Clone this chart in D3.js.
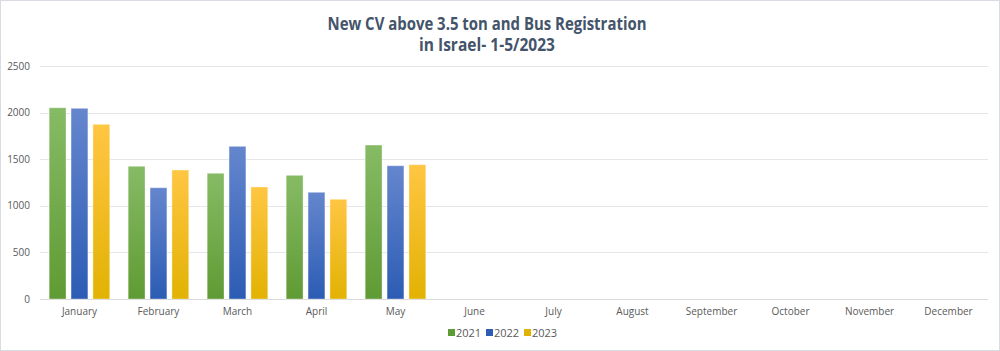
<!DOCTYPE html>
<html>
<head>
<meta charset="utf-8">
<script src="https://cdn.jsdelivr.net/npm/d3@7"></script>
<style>
  body { margin: 0; background: #fff; }
  svg { display: block; font-family: "Open Sans", "Noto Sans", sans-serif; }
</style>
</head>
<body>
<svg id="chart" width="1000" height="351"></svg>
<script>
// chart data
const months = ['January', 'February', 'March', 'April', 'May', 'June', 'July',
  'August', 'September', 'October', 'November', 'December'];
const years = ['2021', '2022', '2023'];
const values2021 = [2052, 1424, 1349, 1327, 1652];
const values2022 = [2046, 1194, 1638, 1145, 1430];
const values2023 = [1874, 1384, 1202, 1070, 1441];
const yTicks = [0, 500, 1000, 1500, 2000, 2500];
const titleLines = ['New CV above 3.5 ton and Bus Registration', 'in Israel- 1-5/2023'];

const series = [values2021, values2022, values2023];

// gradient colours per year (top, bottom)
const palette = [
  ['#86bb65', '#5f9b34'],
  ['#6586ce', '#2c5cb4'],
  ['#ffc643', '#e2b203']
];

const svg = d3.select('#chart');
const width = 1000, height = 351;
const margin = { top: 66, right: 12, bottom: 52, left: 40 };

// outer frame
svg.append('rect')
  .attr('x', 0.5).attr('y', 0.5)
  .attr('width', width - 1).attr('height', height - 1)
  .style('fill', '#fff')
  .style('stroke', '#d9dde3');

const defs = svg.append('defs');
palette.forEach((c, i) => {
  const g = defs.append('linearGradient')
    .attr('id', 'grad' + i)
    .attr('x1', 0).attr('y1', 0).attr('x2', 0).attr('y2', 1);
  g.append('stop').attr('offset', '0%').attr('stop-color', c[0]);
  g.append('stop').attr('offset', '100%').attr('stop-color', c[1]);
});

const x = d3.scaleBand()
  .domain(months)
  .range([margin.left, width - margin.right])
  .paddingInner(0.233)
  .paddingOuter(0.116);

const x1 = d3.scaleBand()
  .domain(years)
  .range([0, x.bandwidth()])
  .paddingInner(0.23);

const y = d3.scaleLinear()
  .domain([0, 2500])
  .range([height - margin.bottom, margin.top]);

// gridlines
svg.append('g').selectAll('line')
  .data(yTicks)
  .enter().append('line')
  .attr('x1', margin.left)
  .attr('x2', width - margin.right)
  .attr('y1', d => Math.round(y(d)) + 0.5)
  .attr('y2', d => Math.round(y(d)) + 0.5)
  .style('stroke', d => d === 0 ? '#d9d9d9' : '#e4e6ea')
  .style('stroke-width', 1);

// y labels
svg.append('g').selectAll('text')
  .data(yTicks)
  .enter().append('text')
  .attr('x', 30)
  .attr('y', d => y(d) + 3.5)
  .attr('text-anchor', 'end')
  .text(d => d)
  .style('fill', '#595959')
  .style('font-size', '10px');

// x labels
svg.append('g').selectAll('text')
  .data(months)
  .enter().append('text')
  .attr('x', d => x(d) + x.bandwidth() / 2)
  .attr('y', 315)
  .attr('text-anchor', 'middle')
  .text(d => d)
  .style('fill', '#595959')
  .style('font-size', '10px');

// bars
const groups = svg.append('g').selectAll('g')
  .data(months.slice(0, values2021.length))
  .enter().append('g')
  .attr('transform', d => `translate(${x(d)},0)`);

groups.selectAll('rect')
  .data((m, mi) => years.map((yr, i) => ({ yr, i, v: series[i][mi] })))
  .enter().append('rect')
  .attr('x', d => x1(d.yr))
  .attr('y', d => y(d.v))
  .attr('width', x1.bandwidth())
  .attr('height', d => y(0) - y(d.v))
  .style('fill', d => `url(#grad${d.i})`)
  .style('stroke', 'rgba(255,255,255,0.35)')
  .style('stroke-width', 1);

// title
const title = svg.append('text')
  .attr('text-anchor', 'middle')
  .style('fill', '#44546a')
  .style('font-size', '17px')
  .style('font-weight', 'bold');
titleLines.forEach((t, i) => {
  title.append('tspan')
    .attr('x', 487)
    .attr('y', 30 + i * 21)
    .text(t);
});
// squeeze to Calibri-like width
title.selectAll('tspan').each(function (d, i) {
  const target = i === 0 ? 319 : 136;
  d3.select(this).attr('textLength', target).attr('lengthAdjust', 'spacingAndGlyphs');
});

// legend
const legend = svg.append('g').attr('transform', 'translate(448,333)');
years.forEach((yr, i) => {
  const item = legend.append('g').attr('transform', `translate(${i * 38},0)`);
  item.append('rect')
    .attr('x', 0).attr('y', -4)
    .attr('width', 7).attr('height', 7)
    .style('fill', palette[i][1]);
  item.append('text')
    .attr('x', 8)
    .attr('y', 4)
    .text(yr)
    .style('fill', '#595959')
    .style('font-size', '11px');
});
</script>
</body>
</html>
